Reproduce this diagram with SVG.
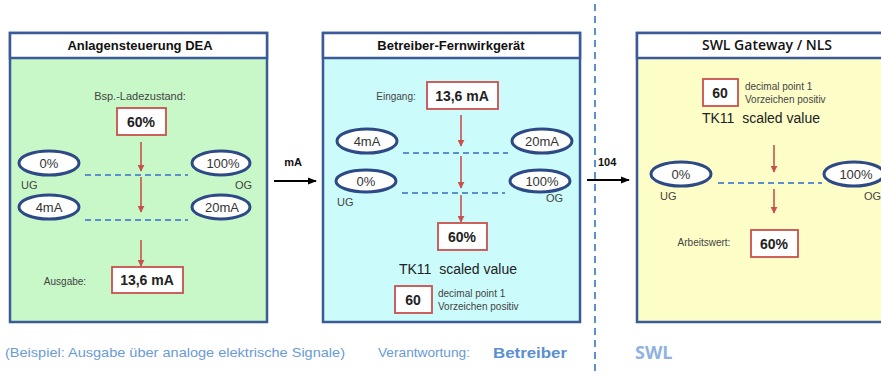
<svg xmlns="http://www.w3.org/2000/svg" width="881" height="374" viewBox="0 0 881 374">
<defs>
<marker id="ar" viewBox="0 0 10 10" refX="9" refY="5" markerWidth="7" markerHeight="7" markerUnits="userSpaceOnUse" orient="auto"><path d="M0,0 L10,5 L0,10 z" fill="#c9504d"/></marker>
<marker id="ak" viewBox="0 0 10 10" refX="9" refY="5" markerWidth="9" markerHeight="9" markerUnits="userSpaceOnUse" orient="auto"><path d="M0,1 L10,5 L0,9 z" fill="#000"/></marker>
</defs>
<style>
text{font-family:"Liberation Sans",Arial,sans-serif}
.frame{stroke:#3a5a98;stroke-width:2.5}
.title{fill:#fff;stroke:#3a5a98;stroke-width:2.5}
.tt{font-size:13px;font-weight:bold;text-anchor:middle;fill:#111}
.ell{fill:#fff;stroke:#2d4a86;stroke-width:3}
.et{font-size:13px;text-anchor:middle;fill:#333}
.rb{fill:#fff;stroke:#c9504d;stroke-width:1.8}
.rt{font-size:14px;font-weight:bold;text-anchor:middle;fill:#222}
.lab{font-size:10px;fill:#444}
.gl{font-size:11px;fill:#444}
.dash{stroke:#5b8fd0;stroke-width:1.8;stroke-dasharray:6,4;fill:none}
.ra{stroke:#c9504d;stroke-width:1.6;fill:none;marker-end:url(#ar)}
.ka{stroke:#000;stroke-width:1.8;fill:none;marker-end:url(#ak)}
.sm{font-size:10px;fill:#444}
.big{font-size:14px;text-anchor:middle;fill:#222}
.foot{font-size:13px;fill:#6a9bd6}
.sh{font-size:11px;font-weight:bold;fill:#111}
</style>

<g id="box-dea">
<rect class="frame" x="10" y="33" width="257" height="289" fill="#c8f7c8"/>
<rect class="title" x="10" y="33" width="257" height="25"/>
<text class="tt" x="140" y="50">Anlagensteuerung DEA</text>
<text class="lab" x="140" y="100" style="text-anchor:middle;font-size:11px">Bsp.-Ladezustand:</text>
<rect class="rb" x="117" y="108" width="49" height="27"/>
<text class="rt" x="141" y="127">60%</text>
<ellipse class="ell" cx="49" cy="163" rx="30" ry="12"/>
<text class="et" x="49" y="168">0%</text>
<ellipse class="ell" cx="221" cy="163" rx="29" ry="12"/>
<text class="et" x="223" y="168">100%</text>
<text class="gl" x="21" y="189">UG</text>
<text class="gl" x="252" y="189" style="text-anchor:end">OG</text>
<ellipse class="ell" cx="49" cy="207" rx="30" ry="12"/>
<text class="et" x="49" y="212">4mA</text>
<ellipse class="ell" cx="221" cy="207" rx="29" ry="12"/>
<text class="et" x="222" y="212">20mA</text>
<rect class="rb" x="112" y="267" width="71" height="26"/>
<text class="rt" x="147" y="285">13,6 mA</text>
<text class="lab" x="65" y="285" style="text-anchor:middle">Ausgabe:</text>
</g>

<g id="box-betreiber">
<rect class="frame" x="323" y="33" width="257" height="289" fill="#ccfbfb"/>
<rect class="title" x="323" y="33" width="257" height="25"/>
<text class="tt" x="451" y="50">Betreiber-Fernwirkgerät</text>
<text class="lab" x="396" y="100" style="text-anchor:middle">Eingang:</text>
<rect class="rb" x="427" y="82" width="71" height="27"/>
<text class="rt" x="462" y="101">13,6 mA</text>
<ellipse class="ell" cx="367" cy="141" rx="30" ry="12"/>
<text class="et" x="367" y="146">4mA</text>
<ellipse class="ell" cx="542" cy="141" rx="30" ry="12"/>
<text class="et" x="542" y="146">20mA</text>
<ellipse class="ell" cx="366" cy="181" rx="30" ry="11"/>
<text class="et" x="366" y="186">0%</text>
<ellipse class="ell" cx="540" cy="181" rx="30" ry="11"/>
<text class="et" x="542" y="186">100%</text>
<text class="gl" x="337" y="206">UG</text>
<text class="gl" x="563" y="202" style="text-anchor:end">OG</text>
<rect class="rb" x="438" y="223" width="49" height="27"/>
<text class="rt" x="462" y="242">60%</text>
<text class="big" x="458" y="274" xml:space="preserve">TK11  scaled value</text>
<rect class="rb" x="395" y="286" width="37" height="27"/>
<text class="rt" x="413" y="305">60</text>
<text class="sm" x="438" y="297">decimal point 1</text>
<text class="sm" x="438" y="310">Vorzeichen positiv</text>
</g>

<g id="box-swl">
<rect class="frame" x="637" y="33" width="250" height="289" fill="#fdfdc8"/>
<rect class="title" x="637" y="33" width="250" height="25"/>
<text x="767" y="50" style="text-anchor:middle;font-family:'Open Sans',sans-serif;font-size:14px;font-weight:600;fill:#111">SWL Gateway / NLS</text>
<rect class="rb" x="703" y="79" width="35" height="27"/>
<text class="rt" x="720" y="98">60</text>
<text class="sm" x="745" y="90">decimal point 1</text>
<text class="sm" x="745" y="103">Vorzeichen positiv</text>
<text class="big" x="761" y="123" xml:space="preserve">TK11  scaled value</text>
<ellipse class="ell" cx="681" cy="174" rx="30" ry="12"/>
<text class="et" x="681" y="179">0%</text>
<ellipse class="ell" cx="854" cy="174" rx="30" ry="12"/>
<text class="et" x="856" y="179">100%</text>
<text class="gl" x="660" y="200">UG</text>
<text class="gl" x="864" y="200">OG</text>
<rect class="rb" x="751" y="230" width="47" height="27"/>
<text class="rt" x="774" y="249">60%</text>
<text class="lab" x="704" y="246" style="text-anchor:middle">Arbeitswert:</text>
</g>

<g id="connectors">
<line class="dash" x1="85" y1="175" x2="188" y2="175"/>
<line class="dash" x1="85" y1="220" x2="188" y2="220"/>
<line class="ra" x1="141" y1="142" x2="141" y2="171"/>
<line class="ra" x1="141" y1="177" x2="141" y2="212"/>
<line class="ra" x1="141" y1="240" x2="141" y2="266"/>
<line class="dash" x1="403" y1="153" x2="508" y2="153"/>
<line class="dash" x1="402" y1="193" x2="505" y2="193"/>
<line class="ra" x1="461" y1="115" x2="461" y2="146"/>
<line class="ra" x1="461" y1="156" x2="461" y2="188"/>
<line class="ra" x1="461" y1="195" x2="461" y2="222"/>
<line class="dash" x1="718" y1="183" x2="822" y2="183"/>
<line class="ra" x1="774" y1="145" x2="774" y2="172"/>
<line class="ra" x1="774" y1="189" x2="774" y2="213"/>
<line class="ka" x1="274" y1="181" x2="316" y2="181"/>
<text class="sh" x="293" y="166" style="text-anchor:middle">mA</text>
<line class="ka" x1="587" y1="180" x2="629" y2="180"/>
<text class="sh" x="598" y="166">104</text>
<line x1="595" y1="4" x2="595" y2="374" stroke="#5b8fd0" stroke-width="2" stroke-dasharray="7,5"/>
</g>

<g id="footer">
<text class="foot" x="5" y="357" textLength="340" lengthAdjust="spacingAndGlyphs">(Beispiel: Ausgabe über analoge elektrische Signale)</text>
<text class="foot" x="378" y="357" textLength="92" lengthAdjust="spacingAndGlyphs">Verantwortung:</text>
<text x="493" y="358" textLength="74" lengthAdjust="spacingAndGlyphs" style="font-size:15px;font-weight:bold;fill:#5b8fd0">Betreiber</text>
<text x="635" y="359" style="font-family:'Open Sans',sans-serif;font-size:18px;font-weight:bold;fill:#8fb3e0">SWL</text>
</g>
</svg>
